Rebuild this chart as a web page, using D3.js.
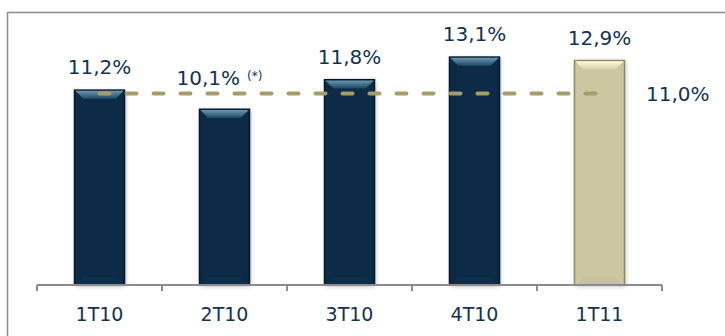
<!DOCTYPE html>
<html>
<head>
<meta charset="utf-8">
<script src="https://cdn.jsdelivr.net/npm/d3@7"></script>
<style>
  body { margin: 0; background: #fff; }
  svg { display: block; font-family: "DejaVu Sans", Verdana, sans-serif; }
</style>
</head>
<body>
<div id="chart"></div>
<script>
// data
var quarters = ["1T10", "2T10", "3T10", "4T10", "1T11"];
var values = [11.2, 10.1, 11.8, 13.1, 12.9];
var labels = ["11,2%", "10,1%", "11,8%", "13,1%", "12,9%"];
var notes = ["", "(*)", "", "", ""];
var target = 11.0;
var targetLabel = "11,0%";

var width = 725, height = 336;
var textColor = "#12334f";
var gray = "#8c8c8c";

var svg = d3.select("#chart").append("svg")
    .attr("width", width)
    .attr("height", height);

var defs = svg.append("defs");

// shadow round the bars
var shadow = defs.append("filter").attr("id", "shadow")
    .attr("x", "-20%").attr("y", "-10%").attr("width", "140%").attr("height", "120%");
shadow.append("feDropShadow")
    .attr("dx", 1).attr("dy", 1)
    .attr("stdDeviation", 2)
    .attr("flood-color", "#000")
    .attr("flood-opacity", 0.3);

// bar colours: navy for 2010, beige for the last quarter
var palettes = {
  navy:  { body: "#0a2c46", edge: "#03192b", top1: "#6d97b0", top2: "#1b4864", bottom: "#0c304c" },
  beige: { body: "#ccc7a0", edge: "#8e8966", top1: "#fbf8dc", top2: "#d6d1ab", bottom: "#c6c199" }
};
Object.keys(palettes).forEach(function(k) {
  var g = defs.append("linearGradient").attr("id", "top-" + k)
      .attr("x1", 0).attr("y1", 0).attr("x2", 0).attr("y2", 1);
  g.append("stop").attr("offset", "0%").attr("stop-color", palettes[k].top1);
  g.append("stop").attr("offset", "100%").attr("stop-color", palettes[k].top2);
});

// frame (only top and left show)
svg.append("path")
    .attr("d", "M7.5," + height + "V12.5H" + width)
    .attr("fill", "none")
    .attr("stroke", gray)
    .attr("stroke-width", 1.5);

var x = d3.scaleBand()
    .domain(quarters)
    .range([37, 662])
    .paddingInner(0.6)
    .paddingOuter(0.3);

var y = d3.scaleLinear()
    .domain([0, 15])
    .range([285, 285 - 15 * 17.4]);

var data = quarters.map(function(q, i) {
  return { q: q, v: values[i], label: labels[i], note: notes[i], pal: i == quarters.length - 1 ? "beige" : "navy" };
});

// bars
var bev = 8;
var bars = svg.selectAll(".bar")
    .data(data)
  .enter().append("g")
    .attr("class", "bar");

bars.append("rect")
    .attr("x", function(d) { return x(d.q); })
    .attr("y", function(d) { return y(d.v); })
    .attr("width", x.bandwidth())
    .attr("height", function(d) { return y(0) - y(d.v); })
    .attr("fill", function(d) { return palettes[d.pal].body; })
    .attr("filter", "url(#shadow)");

// side edges
bars.append("rect")
    .attr("x", function(d) { return x(d.q); })
    .attr("y", function(d) { return y(d.v); })
    .attr("width", x.bandwidth())
    .attr("height", function(d) { return y(0) - y(d.v); })
    .attr("fill", "none")
    .attr("stroke", function(d) { return palettes[d.pal].edge; })
    .attr("stroke-width", 1.5);

// bottom bevel
bars.append("path")
    .attr("d", function(d) {
      var x0 = x(d.q) + 1, x1 = x(d.q) + x.bandwidth() - 1, yb = y(0);
      return "M" + x0 + "," + yb + "L" + (x0 + bev) + "," + (yb - bev) + "L" + (x1 - bev) + "," + (yb - bev) + "L" + x1 + "," + yb + "Z";
    })
    .attr("fill", function(d) { return palettes[d.pal].bottom; });

// top bevel
bars.append("path")
    .attr("d", function(d) {
      var x0 = x(d.q) + 0.75, x1 = x(d.q) + x.bandwidth() - 0.75, yt = y(d.v) + 0.75;
      return "M" + x0 + "," + yt + "L" + x1 + "," + yt + "L" + (x1 - bev) + "," + (yt + bev) + "L" + (x0 + bev) + "," + (yt + bev) + "Z";
    })
    .attr("fill", function(d) { return "url(#top-" + d.pal + ")"; });

// axis
var axisG = svg.append("g");
axisG.append("line")
    .attr("x1", x.range()[0]).attr("x2", x.range()[1])
    .attr("y1", y(0)).attr("y2", y(0))
    .attr("stroke", gray).attr("stroke-width", 2);

var edges = quarters.map(function(q) { return x(q) - x.step() * x.paddingInner() / 2; });
edges.push(x.range()[1]);
axisG.selectAll(".tick-mark")
    .data(edges)
  .enter().append("line")
    .attr("x1", function(d) { return d; }).attr("x2", function(d) { return d; })
    .attr("y1", y(0)).attr("y2", y(0) + 6)
    .attr("stroke", gray).attr("stroke-width", 2);

var xAxis = d3.axisBottom(x).tickSize(0).tickPadding(0);
svg.append("g")
    .attr("transform", "translate(0," + y(0) + ")")
    .call(xAxis)
    .call(function(g) { g.select(".domain").remove(); })
    .selectAll("text")
    .attr("y", 36)
    .attr("dy", 0)
    .attr("fill", textColor)
    .style("font-size", "19px")
    .style("font-family", "'DejaVu Sans', Verdana, sans-serif");

// target dashed line
svg.append("line")
    .attr("x1", x(quarters[0]) + x.bandwidth() / 2)
    .attr("x2", x(quarters[quarters.length - 1]) + x.bandwidth() / 2)
    .attr("y1", y(target)).attr("y2", y(target))
    .attr("stroke", "#a39c6b")
    .attr("stroke-width", 4)
    .attr("stroke-linecap", "round")
    .attr("stroke-dasharray", "10,17");

svg.append("text")
    .attr("x", 646)
    .attr("y", y(target))
    .attr("dy", "0.35em")
    .attr("fill", textColor)
    .style("font-size", "20px")
    .text(targetLabel);

// value labels, lifted above the dashed line when needed
var vl = svg.selectAll(".val")
    .data(data)
  .enter().append("text")
    .attr("class", "val")
    .attr("x", function(d) { return x(d.q) + x.bandwidth() / 2 - (d.note ? 5 : 0); })
    .attr("y", function(d) { return Math.min(y(d.v) - 16, y(target) - 9); })
    .attr("text-anchor", "middle")
    .attr("fill", textColor)
    .style("font-size", "20px");
vl.append("tspan").text(function(d) { return d.label; });
vl.filter(function(d) { return d.note; })
  .append("tspan")
    .attr("dx", 7)
    .attr("dy", -5)
    .style("font-size", "12px")
    .text(function(d) { return d.note; });
</script>
</body>
</html>
